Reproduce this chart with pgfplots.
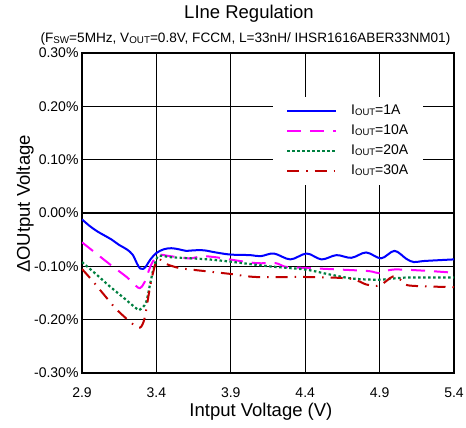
\documentclass[border=0pt]{standalone}
\usepackage{fontspec}
\setmainfont{Liberation Sans}
\usepackage{pgfplots}
\pgfplotsset{compat=1.18}
\definecolor{cblue}{RGB}{0,0,255}
\definecolor{cmag}{RGB}{255,0,255}
\definecolor{cgreen}{RGB}{0,128,64}
\definecolor{cred}{RGB}{192,0,0}
\newcommand{\sub}[1]{\raisebox{-1pt}{\fontsize{9.5}{10}\selectfont #1}}
\newcommand{\subb}[1]{\raisebox{-1pt}{\fontsize{9.8}{10}\selectfont #1}}
\begin{document}
\begin{tikzpicture}
\useasboundingbox (0,0) rectangle (466pt,428pt);
\begin{axis}[
  at={(82pt,55pt)}, anchor=south west,
  scale only axis, width=372pt, height=320pt,
  xmin=2.9, xmax=5.4, ymin=-0.3, ymax=0.3,
  xtick={2.9,3.4,3.9,4.4,4.9,5.4},
  xticklabels={2.9,3.4,3.9,4.4,4.9,5.4},
  ytick={-0.3,-0.2,-0.1,0,0.1,0.2,0.3},
  yticklabels={-0.30\%,-0.20\%,-0.10\%,0.00\%,0.10\%,0.20\%,0.30\%},
  /pgf/number format/assume math mode=true,
  grid=major,
  major grid style={black, line width=1.4pt},
  axis line style={black, line width=1.6pt},
  major tick length=0pt,
  tick label style={font=\fontsize{14}{16}\selectfont},
  xticklabel style={yshift=-11pt},
  xlabel={Intput Voltage (V)},
  xlabel style={font=\fontsize{18.5}{20}\selectfont, at={(axis description cs:0.481,-0.12)}, anchor=center},
  ylabel={ΔOUtput Voltage},
  ylabel style={font=\fontsize{18.5}{20}\selectfont, at={(axis description cs:-0.153,0.528)}, anchor=center, rotate=0},
  title={LIne Regulation},
  title style={font=\fontsize{18.5}{20}\selectfont, at={(axis description cs:0.449,1.104)}, anchor=center},
  legend cell align=left,
  legend style={draw=none, fill=white, at={(0.513,0.8625)}, anchor=north west,
    inner xsep=13pt, inner ysep=4pt, column sep=12pt,
    font=\fontsize{14}{16}\selectfont,
    nodes={text height=10pt, text depth=3pt, inner ysep=3.5pt}},
  legend image code/.code={\draw[#1] (0pt,0pt) -- (49pt,0pt);},
  every axis plot/.append style={line width=2pt, line join=round},
]
\addplot[cblue, smooth, tension=0.55] coordinates {
(2.90,-0.012) (2.95,-0.024) (3.00,-0.034) (3.05,-0.042) (3.10,-0.050) (3.15,-0.060)
(3.20,-0.068) (3.24,-0.078) (3.27,-0.095) (3.29,-0.104) (3.31,-0.105) (3.33,-0.100)
(3.36,-0.087) (3.40,-0.075) (3.45,-0.068) (3.50,-0.066) (3.55,-0.068) (3.60,-0.071)
(3.65,-0.070) (3.72,-0.070) (3.80,-0.074) (3.90,-0.078) (4.03,-0.079) (4.10,-0.081)
(4.19,-0.076) (4.30,-0.087) (4.41,-0.076) (4.51,-0.087) (4.61,-0.079) (4.71,-0.084)
(4.81,-0.074) (4.91,-0.085) (5.00,-0.071) (5.08,-0.086) (5.13,-0.092) (5.20,-0.090)
(5.40,-0.087)};
\addlegendentry{I\sub{OUT}=1A}
\addplot[cmag, smooth, tension=0.5, dash pattern=on 14pt off 9pt] coordinates {
(2.90,-0.055) (3.00,-0.077) (3.10,-0.099) (3.20,-0.120) (3.26,-0.136) (3.29,-0.141)
(3.32,-0.130) (3.36,-0.100) (3.39,-0.085) (3.42,-0.078) (3.47,-0.080) (3.55,-0.083)
(3.63,-0.085) (3.71,-0.081) (3.80,-0.083) (3.89,-0.087) (4.07,-0.094) (4.20,-0.094)
(4.27,-0.101) (4.40,-0.103) (4.63,-0.106) (4.83,-0.109) (4.90,-0.113) (4.99,-0.106)
(5.19,-0.108) (5.40,-0.112)};
\addlegendentry{I\sub{OUT}=10A}
\addplot[cgreen, smooth, tension=0.5, line width=2.2pt, dash pattern=on 2.5pt off 2.5pt] coordinates {
(2.90,-0.092) (3.00,-0.116) (3.08,-0.136) (3.18,-0.159) (3.27,-0.180) (3.29,-0.181)
(3.33,-0.168) (3.36,-0.130) (3.38,-0.105) (3.40,-0.087) (3.42,-0.080) (3.50,-0.083)
(3.63,-0.085) (3.75,-0.087) (3.89,-0.091) (4.16,-0.100) (4.40,-0.106) (4.56,-0.115)
(4.72,-0.123) (4.90,-0.125) (5.08,-0.121) (5.40,-0.121)};
\addlegendentry{I\sub{OUT}=20A}
\addplot[cred, smooth, tension=0.5, dash pattern=on 12pt off 7pt on 1.5pt off 7pt] coordinates {
(2.90,-0.105) (2.97,-0.127) (3.08,-0.164) (3.14,-0.183) (3.24,-0.208) (3.29,-0.215)
(3.32,-0.198) (3.35,-0.150) (3.37,-0.121) (3.40,-0.090) (3.43,-0.088) (3.47,-0.096)
(3.55,-0.103) (3.63,-0.106) (3.89,-0.114) (4.07,-0.120) (4.40,-0.120) (4.70,-0.123)
(4.81,-0.134) (4.90,-0.136) (4.99,-0.119) (5.05,-0.127) (5.10,-0.136) (5.40,-0.139)};
\addlegendentry{I\sub{OUT}=30A}
\end{axis}
\node[font=\fontsize{13.6}{15}\selectfont, anchor=center] at (245.5pt,389pt)
  {(F\subb{SW}=5MHz, V\subb{OUT}=0.8V, FCCM, L=33nH/ IHSR1616ABER33NM01)};
\end{tikzpicture}
\end{document}
